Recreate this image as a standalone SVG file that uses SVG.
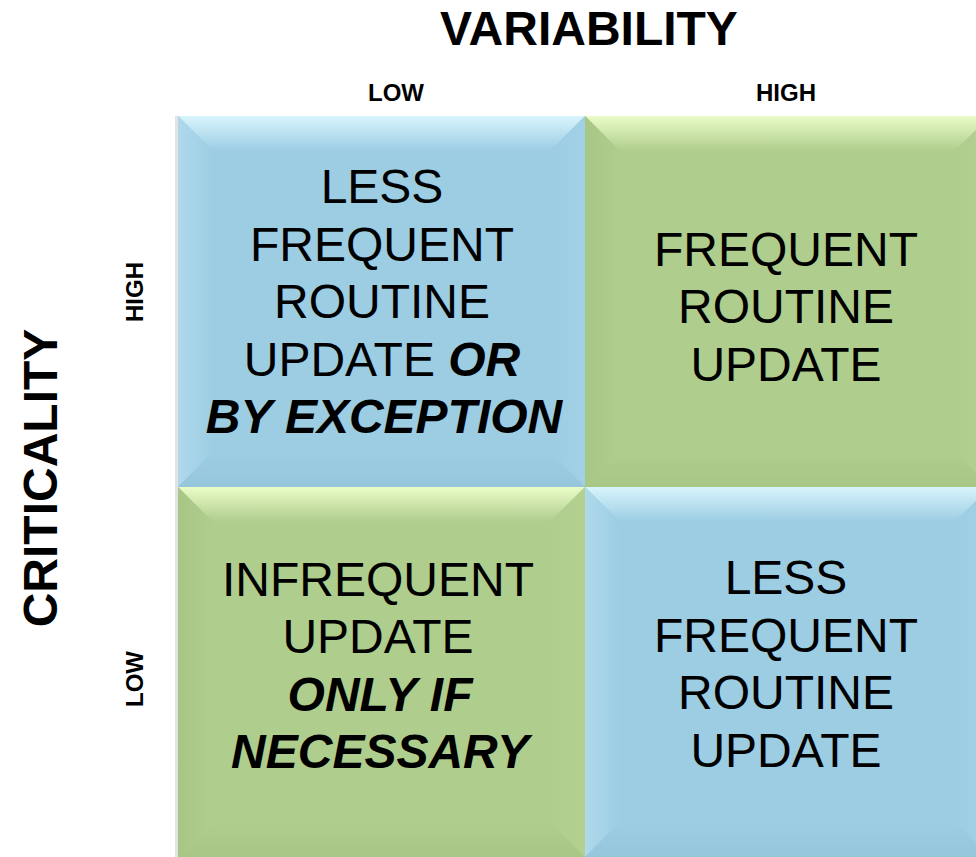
<svg xmlns="http://www.w3.org/2000/svg" width="976" height="857" viewBox="0 0 976 857">
<defs>
<style>
.t{font-family:"Liberation Sans",Arial,sans-serif;fill:#000}
.h{font-weight:bold;font-size:48px}
.ax{font-weight:bold;font-size:24px}
.c{font-size:48px;text-anchor:middle}
.bi{font-weight:bold;font-style:italic}
</style>
<linearGradient id="bTop" x1="0" y1="0" x2="0" y2="1"><stop offset="0" stop-color="#d8f4fc"/><stop offset="1" stop-color="#9ccde3"/></linearGradient>
<linearGradient id="bLeft" x1="0" y1="0" x2="1" y2="0"><stop offset="0" stop-color="#b0d9eb"/><stop offset="1" stop-color="#9ccde3"/></linearGradient>
<linearGradient id="bRight" x1="0" y1="0" x2="1" y2="0"><stop offset="0" stop-color="#9ccde3"/><stop offset="1" stop-color="#a2d1e6"/></linearGradient>
<linearGradient id="bBot" x1="0" y1="0" x2="0" y2="1"><stop offset="0" stop-color="#9ccde3"/><stop offset="1" stop-color="#95c6dc"/></linearGradient>
<linearGradient id="gTop" x1="0" y1="0" x2="0" y2="1"><stop offset="0" stop-color="#eafcc8"/><stop offset="1" stop-color="#afcd8c"/></linearGradient>
<linearGradient id="gLeft" x1="0" y1="0" x2="1" y2="0"><stop offset="0" stop-color="#a8c786"/><stop offset="1" stop-color="#afcd8c"/></linearGradient>
<linearGradient id="gRight" x1="0" y1="0" x2="1" y2="0"><stop offset="0" stop-color="#afcd8c"/><stop offset="1" stop-color="#b4d192"/></linearGradient>
<linearGradient id="gBot" x1="0" y1="0" x2="0" y2="1"><stop offset="0" stop-color="#afcd8c"/><stop offset="1" stop-color="#a8c685"/></linearGradient>
</defs>
<rect width="976" height="857" fill="#fff"/>

<text class="t h" x="589" y="45" text-anchor="middle">VARIABILITY</text>
<text class="t ax" x="396" y="101" text-anchor="middle">LOW</text>
<text class="t ax" x="786" y="101" text-anchor="middle">HIGH</text>
<text class="t h" transform="translate(57,478) rotate(-90)" text-anchor="middle">CRITICALITY</text>
<text class="t ax" transform="translate(143,292) rotate(-90)" text-anchor="middle">HIGH</text>
<text class="t ax" transform="translate(143,679) rotate(-90)" text-anchor="middle">LOW</text>

<rect x="175" y="116" width="4" height="741" fill="#d0d0d0" opacity="0.6"/>

<g id="cell-tl">
<rect x="178" y="116" width="407" height="371" fill="#9ccde3"/>
<polygon points="178,116 585,116 550,151 213,151" fill="url(#bTop)"/>
<polygon points="178,116 213,151 213,452 178,487" fill="url(#bLeft)"/>
<polygon points="585,116 585,487 550,452 550,151" fill="url(#bRight)"/>
<polygon points="178,487 585,487 550,452 213,452" fill="url(#bBot)"/>
<text class="t c" x="382"><tspan x="382" y="203">LESS</tspan><tspan x="382" y="261">FREQUENT</tspan><tspan x="382" y="318">ROUTINE</tspan><tspan x="382" y="376">UPDATE <tspan class="bi">OR</tspan></tspan><tspan x="384" y="433" class="bi">BY EXCEPTION</tspan></text>
</g>

<g id="cell-tr">
<rect x="585" y="116" width="405" height="371" fill="#afcd8c"/>
<polygon points="585,116 990,116 955,151 620,151" fill="url(#gTop)"/>
<polygon points="585,116 620,151 620,452 585,487" fill="url(#gLeft)"/>
<polygon points="990,116 990,487 955,452 955,151" fill="url(#gRight)"/>
<polygon points="585,487 990,487 955,452 620,452" fill="url(#gBot)"/>
<text class="t c"><tspan x="786" y="266">FREQUENT</tspan><tspan x="786" y="323">ROUTINE</tspan><tspan x="786" y="381">UPDATE</tspan></text>
</g>

<g id="cell-bl">
<rect x="178" y="487" width="407" height="370" fill="#afcd8c"/>
<polygon points="178,487 585,487 550,522 213,522" fill="url(#gTop)"/>
<polygon points="178,487 213,522 213,822 178,857" fill="url(#gLeft)"/>
<polygon points="585,487 585,857 550,822 550,522" fill="url(#gRight)"/>
<polygon points="178,857 585,857 550,822 213,822" fill="url(#gBot)"/>
<text class="t c"><tspan x="378" y="596">INFREQUENT</tspan><tspan x="378" y="653">UPDATE</tspan><tspan x="380" y="711" class="bi">ONLY IF</tspan><tspan x="380" y="768" class="bi">NECESSARY</tspan></text>
</g>

<g id="cell-br">
<rect x="585" y="487" width="405" height="370" fill="#9ccde3"/>
<polygon points="585,487 990,487 955,522 620,522" fill="url(#bTop)"/>
<polygon points="585,487 620,522 620,822 585,857" fill="url(#bLeft)"/>
<polygon points="990,487 990,857 955,822 955,522" fill="url(#bRight)"/>
<polygon points="585,857 990,857 955,822 620,822" fill="url(#bBot)"/>
<text class="t c"><tspan x="786" y="594">LESS</tspan><tspan x="786" y="652">FREQUENT</tspan><tspan x="786" y="709">ROUTINE</tspan><tspan x="786" y="767">UPDATE</tspan></text>
</g>
<g id="connectors"/>
</svg>
